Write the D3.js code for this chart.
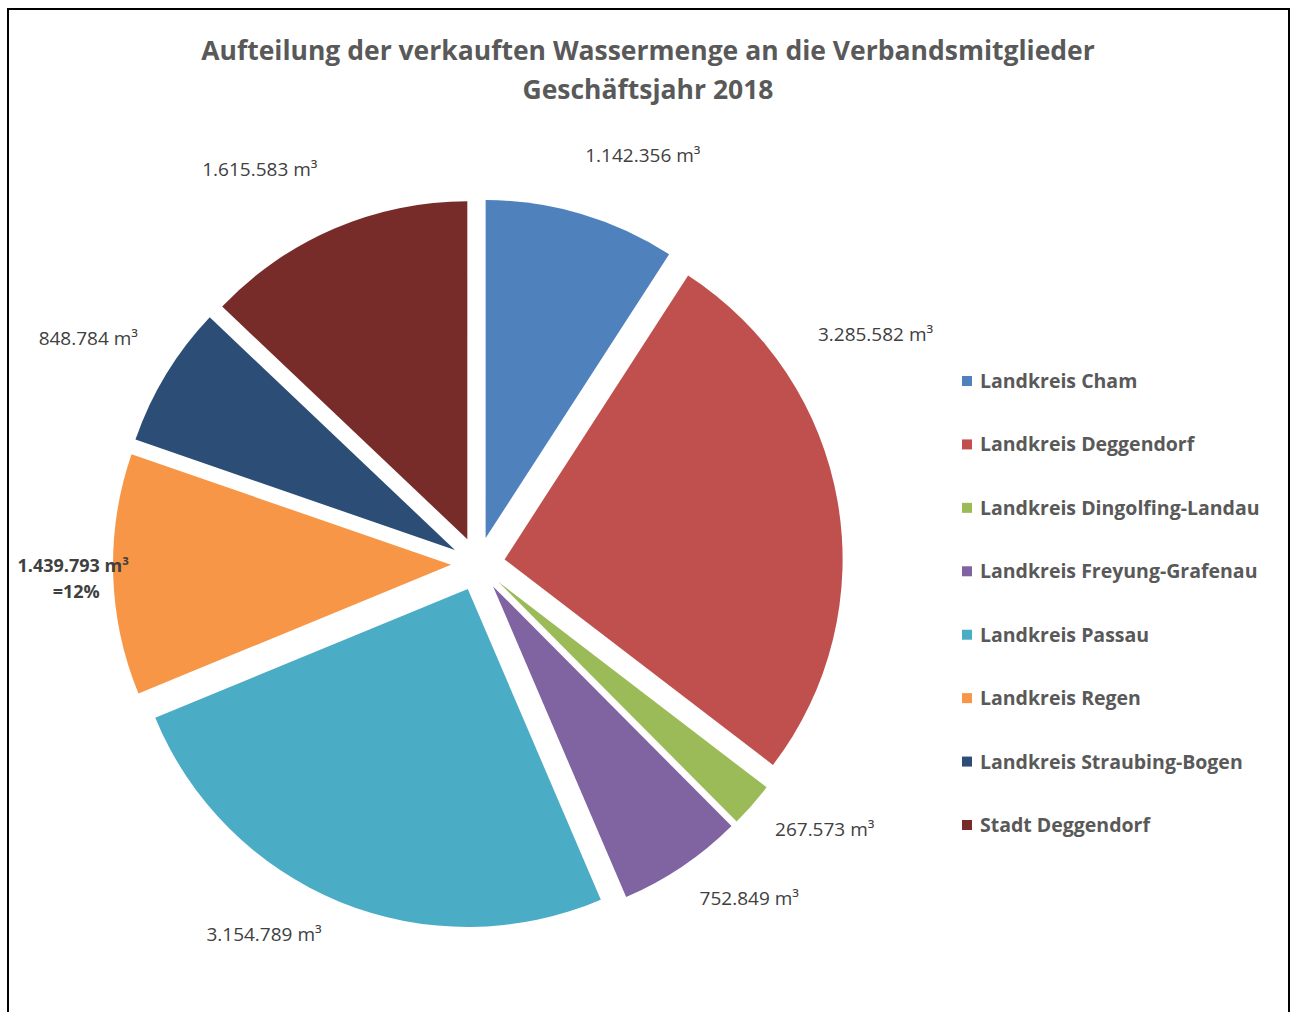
<!DOCTYPE html>
<html>
<head>
<meta charset="utf-8">
<script src="https://cdn.jsdelivr.net/npm/d3@7"></script>
<style>
  body { margin: 0; background: #fff; }
  svg { display: block; }
  text { font-family: "Open Sans", sans-serif; }
</style>
</head>
<body>
<svg></svg>
<script>
// Data
const categories = [
    "Landkreis Cham", "Landkreis Deggendorf", "Landkreis Dingolfing-Landau",
    "Landkreis Freyung-Grafenau", "Landkreis Passau", "Landkreis Regen",
    "Landkreis Straubing-Bogen", "Stadt Deggendorf"
];
const values = [1142356, 3285582, 267573, 752849, 3154789, 1439793, 848784, 1615583];
const valueLabels = [
    "1.142.356 m³", "3.285.582 m³", "267.573 m³", "752.849 m³",
    "3.154.789 m³", "1.439.793 m³", "848.784 m³", "1.615.583 m³"
];
const colors = ["#4F81BD", "#C0504D", "#9BBB59", "#8064A2", "#4BACC6", "#F79646", "#2C4D75", "#772C2A"];

// Label placement (angle in degrees clockwise from top, distance from centre)
const labelAngle = [22, 60, 127.5, 141, 210, 268, 300, 331];
const labelDist = [440, 459, 437, 431, 428, 405, 450, 450];

const width = 1293;
const height = 1012;
const cx = 478, cy = 564;
const radius = 338;
const explode = 27;

const svg = d3.select("svg")
    .attr("width", width)
    .attr("height", height);

// Chart border
svg.append("rect")
    .attr("x", 8).attr("y", 9)
    .attr("width", 1281).attr("height", 1030)
    .attr("fill", "none")
    .attr("stroke", "#000")
    .attr("stroke-width", 2);

// Title
const title = svg.append("text")
    .attr("x", 648).attr("y", 60)
    .attr("text-anchor", "middle")
    .style("font-size", "26.5px")
    .style("font-weight", "bold")
    .style("fill", "#595959");
title.append("tspan").attr("x", 648).attr("y", 60)
    .text("Aufteilung der verkauften Wassermenge an die Verbandsmitglieder");
title.append("tspan").attr("x", 648).attr("y", 99)
    .text("Geschäftsjahr 2018");

// Pie
const pie = d3.pie().sort(null).value(d => d)(values);
const arc = d3.arc().innerRadius(0).outerRadius(radius);

const g = svg.append("g").attr("transform", `translate(${cx}, ${cy})`);

g.selectAll("path")
    .data(pie)
    .enter()
    .append("path")
    .attr("d", arc)
    .attr("fill", (d, i) => colors[i])
    .attr("transform", d => {
        const mid = (d.startAngle + d.endAngle) / 2;
        return `translate(${explode * Math.sin(mid)}, ${-explode * Math.cos(mid)})`;
    });

// Value labels
g.selectAll("text.value")
    .data(pie)
    .enter()
    .append("text")
    .attr("class", "value")
    .attr("text-anchor", "middle")
    .attr("transform", (d, i) => {
        const a = labelAngle[i] * Math.PI / 180;
        return `translate(${labelDist[i] * Math.sin(a)}, ${-labelDist[i] * Math.cos(a)})`;
    })
    .style("font-size", "19px")
    .style("fill", "#404040")
    .style("font-weight", (d, i) => i === 5 ? "bold" : "normal")
    .each(function (d, i) {
        const t = d3.select(this);
        if (i === 5) {
            const pct = Math.round(d.value / d3.sum(values) * 100);
            t.style("font-size", "18px");
            t.append("tspan").attr("x", 0).attr("y", -6).text(valueLabels[i]);
            t.append("tspan").attr("x", 3).attr("y", 20).text("=" + pct + "%");
        } else {
            t.append("tspan").attr("x", 0).attr("y", 6).text(valueLabels[i]);
        }
    });

// Legend
const legendY = d3.scalePoint()
    .domain(categories)
    .range([381, 825]);

const legend = svg.append("g")
    .selectAll("g")
    .data(categories)
    .enter()
    .append("g")
    .attr("transform", d => `translate(962, ${legendY(d)})`);

legend.append("rect")
    .attr("x", 0).attr("y", -5)
    .attr("width", 10).attr("height", 10)
    .attr("fill", (d, i) => colors[i]);

legend.append("text")
    .attr("x", 18).attr("y", 7)
    .text(d => d)
    .style("font-size", "19.5px")
    .style("font-weight", "bold")
    .style("fill", "#595959");
</script>
</body>
</html>
